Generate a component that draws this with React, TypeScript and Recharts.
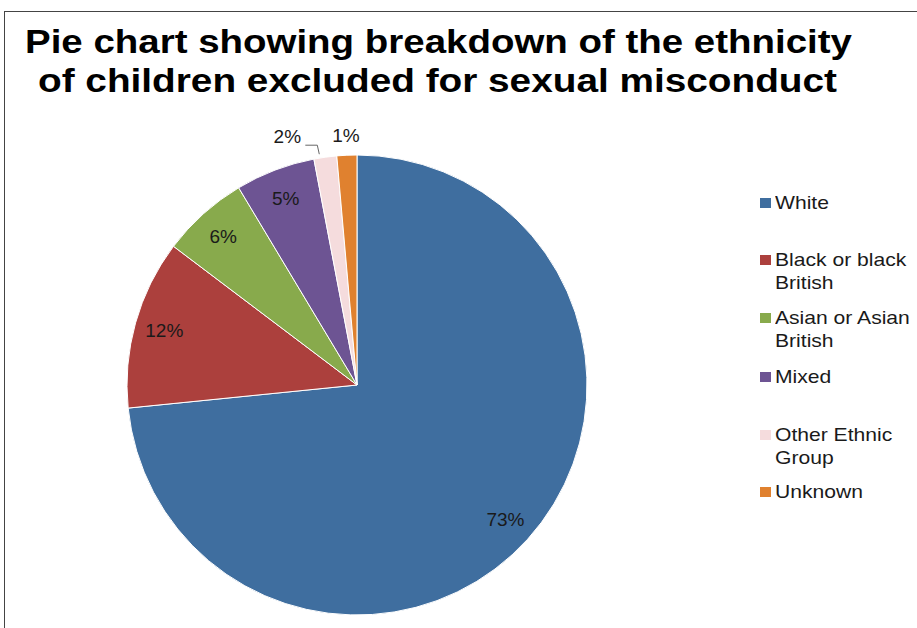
import React from 'react';
import { PieChart, Pie, Cell, Legend } from 'recharts';

const categories = [
  'White',
  'Black or black British',
  'Asian or Asian British',
  'Mixed',
  'Other Ethnic Group',
  'Unknown',
];
const legendLines = [
  ['White'],
  ['Black or black', 'British'],
  ['Asian or Asian', 'British'],
  ['Mixed'],
  ['Other Ethnic', 'Group'],
  ['Unknown'],
];
// slice sizes; printed labels as shown on the chart
const values = [73.4, 11.9, 6.1, 5.6, 1.6, 1.4];
const pctLabels = ['73%', '12%', '6%', '5%', '2%', '1%'];
const sliceColors = ['#3F6E9F', '#AC403D', '#88AA4C', '#6D5493', '#F5DCDD', '#E0812F'];
const titleLines = [
  'Pie chart showing breakdown of the ethnicity',
  'of children excluded for sexual misconduct',
];

const data = categories.map((name, i) => ({ name, value: values[i], label: pctLabels[i] }));

const FONT = '"Liberation Sans", Arial, sans-serif';
const RAD = Math.PI / 180;

function renderLabel(props: any) {
  const { cx, cy, midAngle, outerRadius, index } = props;
  const text = pctLabels[index];
  const style = { fontSize: 19, fontFamily: FONT, fill: '#1a1a1a' };

  if (index === 4) {
    // tiny slice: label pushed left with a bracket leader
    const px = cx + outerRadius * Math.cos(-midAngle * RAD);
    const py = cy + outerRadius * Math.sin(-midAngle * RAD);
    return (
      <g key={`lbl-${index}`}>
        <polyline
          points={`${px - 20},${py - 12} ${px - 8},${py - 12} ${px - 6},${py - 3}`}
          fill="none"
          stroke="#666"
          strokeWidth={1}
        />
        <text x={px - 38} y={py - 21} textAnchor="middle" dominantBaseline="central" {...style}>
          {text}
        </text>
      </g>
    );
  }

  const r = index === 5 ? outerRadius + 20 : outerRadius * 0.87;
  const x = cx + r * Math.cos(-midAngle * RAD);
  const y = cy + r * Math.sin(-midAngle * RAD);
  return (
    <text key={`lbl-${index}`} x={x} y={y} textAnchor="middle" dominantBaseline="central" {...style}>
      {text}
    </text>
  );
}

const legendTops = [0, 57, 115, 174, 232, 289];

function renderLegend() {
  return (
    <div style={{ position: 'relative', width: 160, height: 320 }}>
      {legendLines.map((lines, i) => (
        <div
          key={categories[i]}
          style={{ position: 'absolute', left: 0, top: legendTops[i], display: 'flex' }}
        >
          <div
            style={{
              width: 11,
              height: 10,
              marginTop: 7,
              marginRight: 4,
              background: sliceColors[i],
              flex: 'none',
            }}
          />
          <div
            style={{
              fontFamily: FONT,
              fontSize: 19,
              lineHeight: '23px',
              color: '#1a1a1a',
              whiteSpace: 'nowrap',
              transform: 'scaleX(1.11)',
              transformOrigin: 'left center',
            }}
          >
            {lines.map((l) => (
              <div key={l}>{l}</div>
            ))}
          </div>
        </div>
      ))}
    </div>
  );
}

export default function App() {
  return (
    <div
      style={{
        position: 'absolute',
        left: 0,
        top: 0,
        width: 917,
        height: 628,
        overflow: 'hidden',
        background: '#fff',
      }}
    >
      <div
        style={{
          position: 'absolute',
          left: 4,
          top: 11,
          width: 940,
          height: 640,
          border: '1.5px solid #444',
        }}
      />
      <svg
        width={917}
        height={110}
        style={{ position: 'absolute', left: 0, top: 0 }}
      >
        <text
          x={438.5}
          y={53}
          textAnchor="middle"
          textLength={827}
          lengthAdjust="spacingAndGlyphs"
          fontFamily={FONT}
          fontWeight="bold"
          fontSize={33}
          fill="#000"
        >
          {titleLines[0]}
        </text>
        <text
          x={437.5}
          y={92}
          textAnchor="middle"
          textLength={799}
          lengthAdjust="spacingAndGlyphs"
          fontFamily={FONT}
          fontWeight="bold"
          fontSize={33}
          fill="#000"
        >
          {titleLines[1]}
        </text>
      </svg>
      <div style={{ position: 'absolute', left: 0, top: 0 }}>
        <PieChart width={917} height={628} margin={{ top: 0, right: 0, bottom: 0, left: 0 }}>
          <Pie
            data={data}
            dataKey="value"
            nameKey="name"
            cx={357}
            cy={385}
            outerRadius={230}
            startAngle={90}
            endAngle={-270}
            stroke="#fff"
            strokeWidth={1}
            label={renderLabel}
            labelLine={false}
            isAnimationActive={false}
          >
            {data.map((d, i) => (
              <Cell key={d.name} fill={sliceColors[i]} />
            ))}
          </Pie>
          <Legend
            content={renderLegend}
            wrapperStyle={{ position: 'absolute', left: 760, top: 191, width: 160 }}
          />
        </PieChart>
      </div>
    </div>
  );
}
